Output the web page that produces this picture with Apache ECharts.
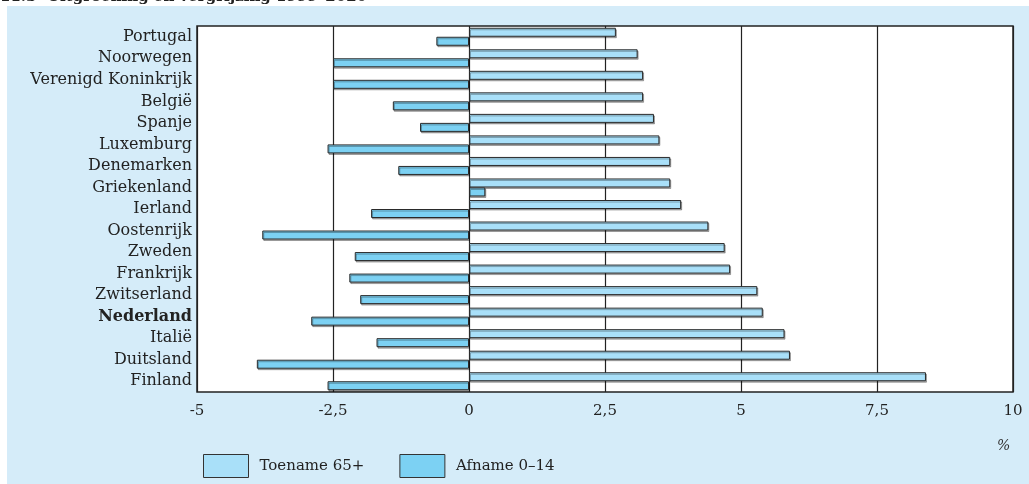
<!DOCTYPE html>
<html>
<head>
<meta charset="utf-8">
<script src="https://cdn.jsdelivr.net/npm/echarts@6/dist/echarts.min.js"></script>
<style>
html,body{margin:0;padding:0;background:#fff;}
#c{width:1029px;height:484px;}
</style>
</head>
<body>
<div id="c"></div>
<script>
const titleText = '11.3  Uitgroening en vergrijzing 1999–2020';
const categories = ['Portugal','Noorwegen','Verenigd Koninkrijk','België','Spanje','Luxemburg','Denemarken','Griekenland','Ierland','Oostenrijk','Zweden','Frankrijk','Zwitserland','Nederland','Italië','Duitsland','Finland'];
const toename65 = [2.7,3.1,3.2,3.2,3.4,3.5,3.7,3.7,3.9,4.4,4.7,4.8,5.3,5.4,5.8,5.9,8.4];
const afname014 = [-0.6,-2.5,-2.5,-1.4,-0.9,-2.6,-1.3,0.3,-1.8,-3.8,-2.1,-2.2,-2.0,-2.9,-1.7,-3.9,-2.6];
const xTicks = {min:-5, max:10, interval:2.5};
const seriesNames = ['Toename 65+','Afname 0–14'];
const unitLabel = '%';

const font = '"DejaVu Serif", "Liberation Serif", serif';
const chart = echarts.init(document.getElementById('c'));
const barStyle = (fill) => ({
  color: fill, borderColor: '#2a2a2a', borderWidth: 1,
  shadowColor: 'rgba(0,0,0,0.3)', shadowOffsetX: 1, shadowOffsetY: 1.5, shadowBlur: 0
});
chart.setOption({
  animation: false,
  backgroundColor: '#fff',
  graphic: [
    {type:'text', z:-20, left: 0, top: -10, style:{text:titleText, font:'bold 15px '+font, fill:'#222'}},
    {type:'rect', z:-10, shape:{x:7,y:6,width:1022,height:478}, style:{fill:'#d5ecf9'}},
    {type:'text', left: 997, top: 439, style:{text:unitLabel, font:'italic 14px '+font, fill:'#333'}}
  ],
  grid: {left:197, right:16, top:26, bottom:92, show:true, backgroundColor:'#fff', borderColor:'#222', borderWidth:1.5},
  legend: {
    left: 198, top: 449, itemWidth: 45, itemHeight: 23, itemGap: 35,
    icon: 'rect',
    textStyle: {fontFamily: font, fontSize: 15, color:'#222', padding:[8,0,0,6]},
    data: seriesNames.map(n => ({name:n, itemStyle:{borderColor:'#333', borderWidth:1}}))
  },
  xAxis: {
    type:'value', min:xTicks.min, max:xTicks.max, interval:xTicks.interval,
    axisLine:{show:false}, axisTick:{show:false},
    splitLine:{show:true, lineStyle:{color:'#222', width:1.2}},
    axisLabel:{fontFamily:font, fontSize:15, color:'#222', margin:12,
      formatter: v => String(v).replace('.', ',')}
  },
  yAxis: {
    type:'category', data: categories, inverse:true,
    axisLine:{show:false}, axisTick:{show:false},
    axisLabel:{fontFamily:font, fontSize:16, color:'#222', margin:5,
      formatter: v => v === 'Nederland' ? '{b|'+v+'}' : v,
      rich:{b:{fontFamily:font, fontSize:16, fontWeight:'bold', color:'#222'}}}
  },
  series: [
    {name:seriesNames[0], type:'bar', data:toename65, barWidth:9, barGap:'0%', itemStyle:barStyle('#a9e0f9')},
    {name:seriesNames[1], type:'bar', data:afname014, barWidth:9, barGap:'0%', itemStyle:barStyle('#7cd1f3')}
  ]
});
</script>
</body>
</html>
